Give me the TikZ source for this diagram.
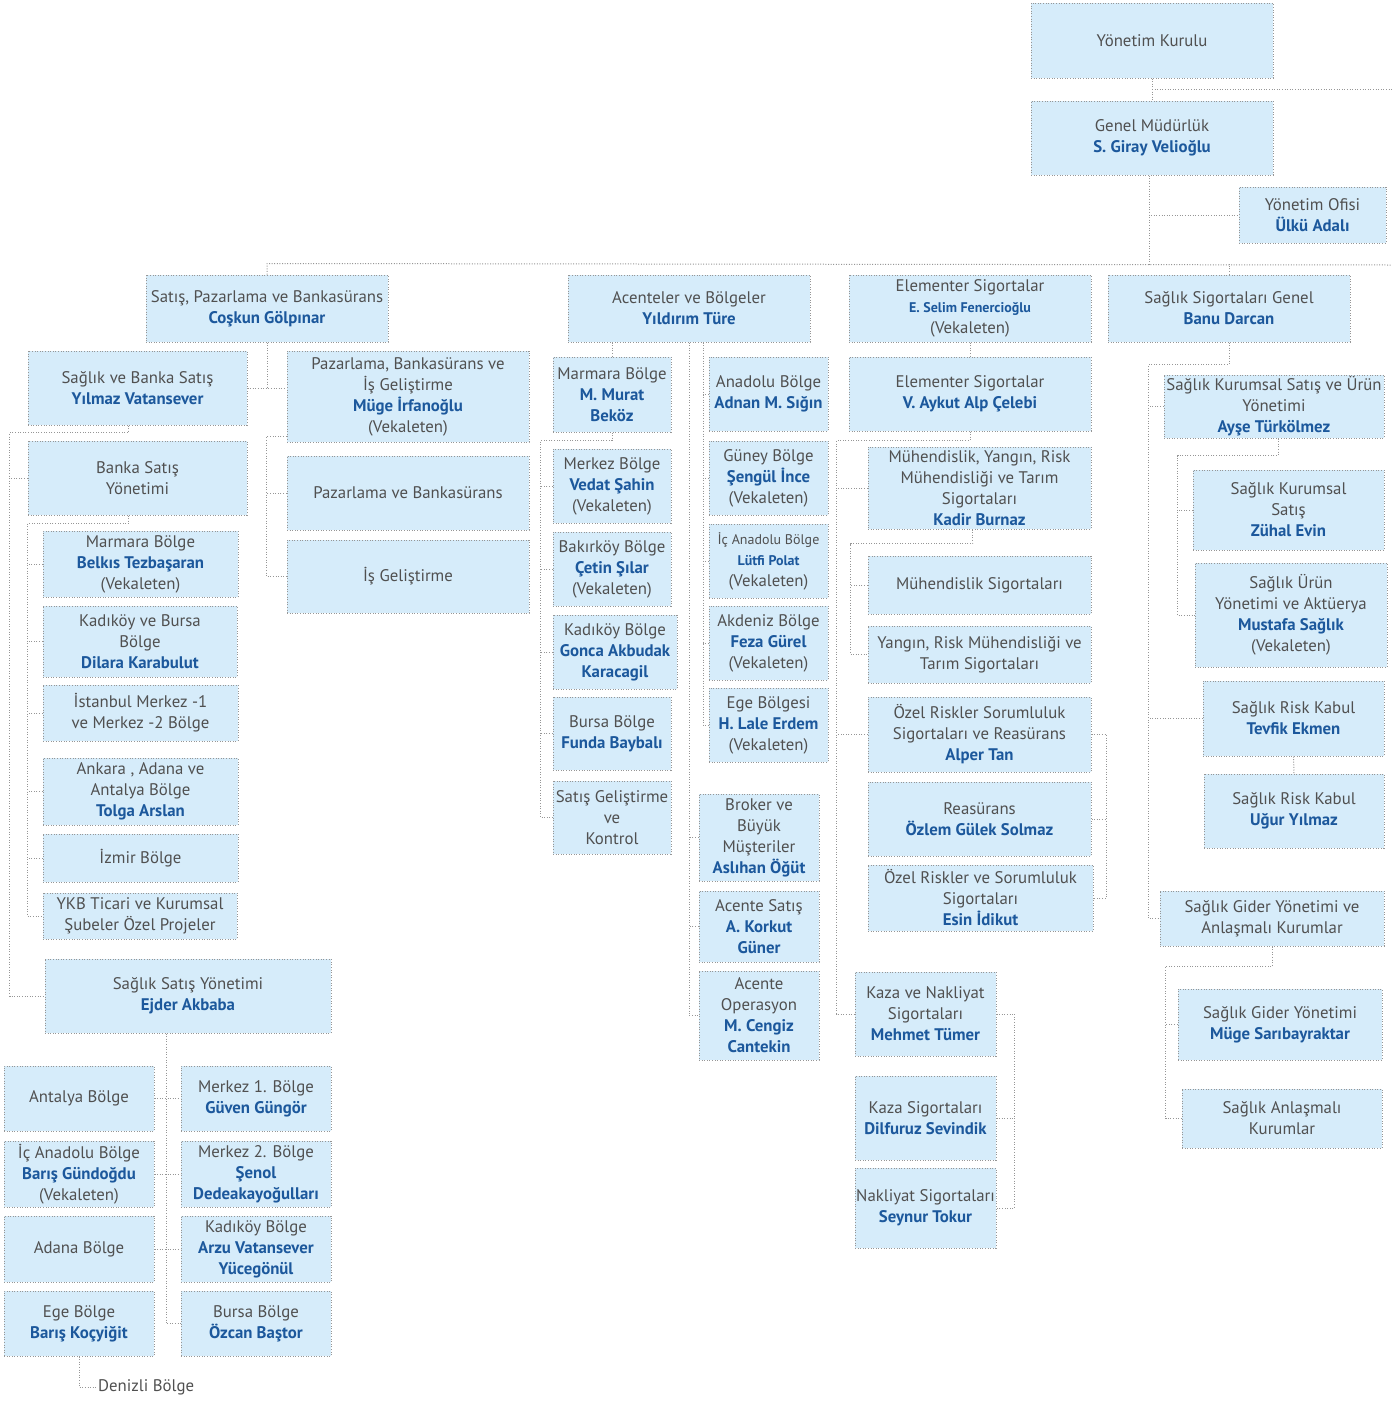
\documentclass[tikz,border=0pt]{standalone}
\usepackage{fontspec}
\setmainfont{PT Sans}
\definecolor{boxfill}{RGB}{214,236,250}
\definecolor{boxline}{RGB}{150,150,150}
\definecolor{labelgray}{RGB}{80,80,80}
\definecolor{nameblue}{RGB}{28,88,156}
\newcommand{\who}[1]{{\color{nameblue}\bfseries #1}}
\newcommand{\sm}{\fontsize{14}{21}\selectfont}
\tikzset{
  unit/.style={draw=boxline, line width=1pt, dash pattern=on 1pt off 1.6pt, fill=boxfill,
    align=center, inner sep=0pt, text=labelgray},
  link/.style={draw=boxline, line width=1pt, dash pattern=on 1pt off 1.6pt},
}
\begin{document}
\begin{tikzpicture}[x=1pt, y=-1pt, font=\fontsize{16.8}{21}\selectfont, line cap=butt]
\useasboundingbox (0,0) rectangle (1392,1401);
% top
\node[unit, minimum width=242, minimum height=75] (yk) at (1152,40.5) {Yönetim Kurulu};
\node[unit, minimum width=242, minimum height=74] (gm) at (1152,138) {Genel Müdürlük\\\who{S. Giray Velioğlu}};
\node[unit, minimum width=147, minimum height=56] (yo) at (1312.5,215) {Yönetim Ofisi\\\who{Ülkü Adalı}};
\coordinate (rt1) at (1392,89);
\coordinate (rt2) at (1392,265);
\draw[link] (yk.south) -- (gm.north);
\draw[link] (yk.south |- rt1) -- (rt1);
\draw[link] ([xshift=-3pt]gm.south) |- (yo.west);
\draw[link] ([xshift=-3pt]gm.south) -- ([xshift=-3pt]gm.south |- rt2);
% first row
\node[unit, minimum width=242, minimum height=67] (spb) at (267,308.5) {Satış, Pazarlama ve Bankasürans\\\who{Coşkun Gölpınar}};
\node[unit, minimum width=242, minimum height=67] (abl) at (689,308.5) {Acenteler ve Bölgeler\\\who{Yıldırım Türe}};
\node[unit, minimum width=242, minimum height=67] (els) at (970,308.5) {Elementer Sigortalar\\{\sm\who{E. Selim Fenercioğlu}}\\(Vekaleten)};
\node[unit, minimum width=242, minimum height=67] (ssg) at (1229,308.5) {Sağlık Sigortaları Genel\\\who{Banu Darcan}};
\draw[link] (spb.north) -- ++(0,-11) -- (rt2);
\draw[link] (ssg.north) -- ++(0,-11);

% satis, pazarlama
\node[unit, minimum width=219, minimum height=74] (sbs) at (137.5,388) {Sağlık ve Banka Satış\\\who{Yılmaz Vatansever}};
\node[unit, minimum width=242, minimum height=91] (pbi) at (408,396.5) {Pazarlama, Bankasürans ve\\İş Geliştirme\\\who{Müge İrfanoğlu}\\(Vekaleten)};
\node[unit, minimum width=242, minimum height=74] (pvb) at (408,493) {Pazarlama ve Bankasürans};
\node[unit, minimum width=242, minimum height=73] (isg) at (408,576.5) {İş Geliştirme};
\draw[link] (spb.south) -- (spb.south |- sbs.east);
\draw[link] (sbs.east) -- (pbi.west |- sbs.east);
\draw[link] ([yshift=6pt]pbi.south west) -- ++(-20,0) |- (isg.west);
\draw[link] (pvb.west) -- ++(-20,0);

\node[unit, minimum width=219, minimum height=74] (bsy) at (137.5,478) {Banka Satış\\Yönetimi};
\node[unit, minimum width=195, minimum height=66] (mrb) at (140.5,564) {Marmara Bölge\\\who{Belkıs Tezbaşaran}\\(Vekaleten)};
\node[unit, minimum width=194, minimum height=71] (kbb) at (140,641.5) {Kadıköy ve Bursa\\Bölge\\\who{Dilara Karabulut}};
\node[unit, minimum width=195, minimum height=56] (imb) at (140.5,713) {İstanbul Merkez -1\\ve Merkez -2 Bölge};
\node[unit, minimum width=195, minimum height=67] (aab) at (140.5,791.5) {Ankara , Adana ve\\Antalya Bölge\\\who{Tolga Arslan}};
\node[unit, minimum width=195, minimum height=48] (izb) at (140.5,858) {İzmir Bölge};
\node[unit, minimum width=194, minimum height=46] (ykb) at (140,916) {YKB Ticari ve Kurumsal\\Şubeler Özel Projeler};
\node[unit, minimum width=286, minimum height=74] (ssy) at (188,996) {Sağlık Satış Yönetimi\\\who{Ejder Akbaba}};
\draw[link] ([xshift=-9pt]sbs.south) -- ++(0,7) -| ([xshift=-35pt]ssy.west) -- (ssy.west);
\draw[link] (bsy.west) -- ++(-18,0);
\draw[link] ([xshift=-9pt]bsy.south) -- ++(0,8) -| ([xshift=-15pt]ykb.west) -- (ykb.west);
\foreach \n in {mrb,kbb,imb,aab,izb}
  \draw[link] (\n.west) -- ++(-15,0);

\node[unit, minimum width=150, minimum height=65] (anb) at (79,1098.5) {Antalya Bölge};
\node[unit, minimum width=150, minimum height=66] (icb) at (79,1174) {İç Anadolu Bölge\\\who{Barış Gündoğdu}\\(Vekaleten)};
\node[unit, minimum width=150, minimum height=66] (adn) at (79,1249) {Adana Bölge};
\node[unit, minimum width=150, minimum height=65] (egb) at (79,1323.5) {Ege Bölge\\\who{Barış Koçyiğit}};
\node[unit, minimum width=150, minimum height=65] (m1b) at (256,1098.5) {Merkez 1. Bölge\\\who{Güven Güngör}};
\node[unit, minimum width=150, minimum height=66] (m2b) at (256,1174) {Merkez 2. Bölge\\\who{Şenol}\\\who{Dedeakayoğulları}};
\node[unit, minimum width=150, minimum height=66] (kyb) at (256,1249) {Kadıköy Bölge\\\who{Arzu Vatansever}\\\who{Yücegönül}};
\node[unit, minimum width=150, minimum height=65] (bub) at (256,1323.5) {Bursa Bölge\\\who{Özcan Baştor}};
\node[anchor=west, text=labelgray, inner sep=2pt] (dnz) at (96,1387) {Denizli Bölge};
\draw[link] ([xshift=-22pt]ssy.south) |- (bub.west);
\draw[link] (anb.east) -- (m1b.west);
\draw[link] (icb.east) -- (m2b.west);
\draw[link] (adn.east) -- (kyb.west);
\draw[link] (egb.south) |- (dnz.west);

% acenteler ve bolgeler
\node[unit, minimum width=118, minimum height=75] (mmb) at (612,394.5) {Marmara Bölge\\\who{M. Murat}\\\who{Beköz}};
\node[unit, minimum width=118, minimum height=74] (mzb) at (612,486) {Merkez Bölge\\\who{Vedat Şahin}\\(Vekaleten)};
\node[unit, minimum width=118, minimum height=74] (bkb) at (612,569) {Bakırköy Bölge\\\who{Çetin Şılar}\\(Vekaleten)};
\node[unit, minimum width=124, minimum height=74] (kdb) at (615,652) {Kadıköy Bölge\\\who{Gonca Akbudak}\\\who{Karacagil}};
\node[unit, minimum width=118, minimum height=73] (bsb) at (612,733.5) {Bursa Bölge\\\who{Funda Baybalı}};
\node[unit, minimum width=118, minimum height=73] (sgk) at (612,817.5) {Satış Geliştirme\\ve\\Kontrol};
\draw[link] (abl.south -| mmb.north) -- (mmb.north);
\draw[link] (mmb.south) -- ++(0,8) -| ([xshift=-12pt]sgk.west) -- (sgk.west);
\foreach \n in {mzb,bkb,kdb,bsb}
  \draw[link] (\n.west) -- ++(-12,0);

\node[unit, minimum width=119, minimum height=74] (adb) at (768.5,394) {Anadolu Bölge\\\who{Adnan M. Sığın}};
\node[unit, minimum width=119, minimum height=74] (gnb) at (768.5,478) {Güney Bölge\\\who{Şengül İnce}\\(Vekaleten)};
\node[unit, minimum width=119, minimum height=74] (iab) at (768.5,561) {{\sm İç Anadolu Bölge}\\{\sm\who{Lütfi Polat}}\\(Vekaleten)};
\node[unit, minimum width=119, minimum height=74] (akb) at (768.5,643) {Akdeniz Bölge\\\who{Feza Gürel}\\(Vekaleten)};
\node[unit, minimum width=119, minimum height=74] (egs) at (768.5,725) {Ege Bölgesi\\\who{H. Lale Erdem}\\(Vekaleten)};
\draw[link] ([xshift=14pt]abl.south) |- (egs.west);
\foreach \n in {adb,gnb,iab,akb}
  \draw[link] (\n.west) -- ++(-6,0);

\node[unit, minimum width=120, minimum height=87] (bbm) at (759,837.5) {Broker ve\\Büyük\\Müşteriler\\\who{Aslıhan Öğüt}};
\node[unit, minimum width=120, minimum height=71] (acs) at (759,926.5) {Acente Satış\\\who{A. Korkut}\\\who{Güner}};
\node[unit, minimum width=120, minimum height=89] (aco) at (759,1015.5) {Acente\\Operasyon\\\who{M. Cengiz}\\\who{Cantekin}};
\draw[link] (abl.south) |- (aco.west);
\draw[link] (bbm.west) -- ++(-10,0);
\draw[link] (acs.west) -- ++(-10,0);

% elementer
\node[unit, minimum width=242, minimum height=74] (eva) at (970,394) {Elementer Sigortalar\\\who{V. Aykut Alp Çelebi}};
\node[unit, minimum width=223, minimum height=82] (mhy) at (979.5,488) {Mühendislik, Yangın, Risk\\Mühendisliği ve Tarım\\Sigortaları\\\who{Kadir Burnaz}};
\node[unit, minimum width=223, minimum height=58] (mhs) at (979.5,585) {Mühendislik Sigortaları};
\node[unit, minimum width=223, minimum height=57] (yrt) at (979.5,654.5) {Yangın, Risk Mühendisliği ve\\Tarım Sigortaları};
\node[unit, minimum width=223, minimum height=75] (ozr) at (979.5,734.5) {Özel Riskler Sorumluluk\\Sigortaları ve Reasürans\\\who{Alper Tan}};
\node[unit, minimum width=223, minimum height=74] (rea) at (979.5,819) {Reasürans\\\who{Özlem Gülek Solmaz}};
\node[unit, minimum width=225, minimum height=66] (ers) at (980.5,898) {Özel Riskler ve Sorumluluk\\Sigortaları\\\who{Esin İdikut}};
\node[unit, minimum width=141, minimum height=84] (kns) at (925.5,1014) {Kaza ve Nakliyat\\Sigortaları\\\who{Mehmet Tümer}};
\node[unit, minimum width=141, minimum height=84] (ksg) at (925.5,1118) {Kaza Sigortaları\\\who{Dilfuruz Sevindik}};
\node[unit, minimum width=141, minimum height=80] (nks) at (925.5,1208) {Nakliyat Sigortaları\\\who{Seynur Tokur}};
\draw[link] (els.south) -- (eva.north);
\draw[link] (eva.south) -- ++(0,9) -| ([xshift=-18pt]kns.west) -- (kns.west);
\draw[link] (mhy.west) -- ++(-31,0);
\draw[link] (ozr.west) -- ++(-31,0);
\draw[link] ([xshift=-7pt]mhy.south) -- ++(0,14) -| ([xshift=-17pt]yrt.west) -- (yrt.west);
\draw[link] (mhs.west) -- ++(-17,0);
\draw[link] (ozr.east) -- ++(15,0) |- (ers.east);
\draw[link] (rea.east) -- ++(15,0);
\draw[link] (kns.east) -- ++(18,0) |- (nks.east);
\draw[link] (ksg.east) -- ++(18,0);

% saglik
\node[unit, minimum width=220, minimum height=63] (skst) at (1274,406.5) {Sağlık Kurumsal Satış ve Ürün\\Yönetimi\\\who{Ayşe Türkölmez}};
\node[unit, minimum width=191, minimum height=80] (skz) at (1288.5,510) {Sağlık Kurumsal\\Satış\\\who{Zühal Evin}};
\node[unit, minimum width=192, minimum height=104] (suy) at (1291,615) {Sağlık Ürün\\Yönetimi ve Aktüerya\\\who{Mustafa Sağlık}\\(Vekaleten)};
\node[unit, minimum width=181, minimum height=75] (srk1) at (1293.5,718.5) {Sağlık Risk Kabul\\\who{Tevfik Ekmen}};
\node[unit, minimum width=180, minimum height=74] (srk2) at (1294,811) {Sağlık Risk Kabul\\\who{Uğur Yılmaz}};
\node[unit, minimum width=224, minimum height=55] (sgy) at (1272,918.5) {Sağlık Gider Yönetimi ve\\Anlaşmalı Kurumlar};
\node[unit, minimum width=204, minimum height=71] (sgm) at (1280,1024.5) {Sağlık Gider Yönetimi\\\who{Müge Sarıbayraktar}};
\node[unit, minimum width=200, minimum height=59] (sak) at (1282,1118.5) {Sağlık Anlaşmalı\\Kurumlar};
\draw[link] (ssg.south) -- ++(0,22) -| ([xshift=-11pt]sgy.west) -- (sgy.west);
\draw[link] (skst.west) -- ++(-15,0);
\draw[link] (srk1.west) -- ++(-54,0);
\draw[link] ([xshift=4pt]skst.south) -- ++(0,17) -| ([xshift=-17pt]suy.west) -- (suy.west);
\draw[link] (skz.west) -- ++(-15,0);
\draw[link] (srk1.south) -- (srk2.north);
\draw[link] (sgy.south) -- ++(0,20) -| ([xshift=-16pt]sak.west) -- (sak.west);
\draw[link] (sgm.west) -- ++(-12,0);
\end{tikzpicture}
\end{document}
